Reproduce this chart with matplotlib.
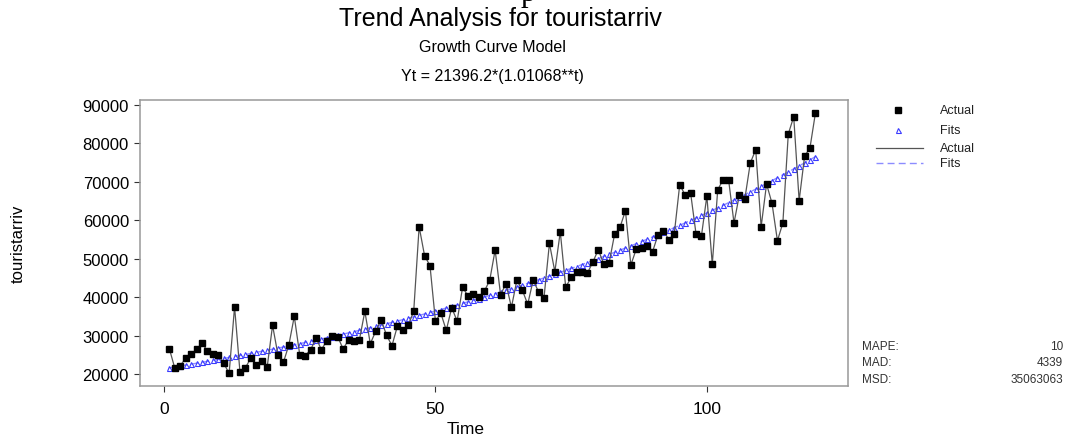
import matplotlib
matplotlib.use("Agg")
import matplotlib.pyplot as plt
from matplotlib.lines import Line2D

plt.rcParams['font.family'] = ['Liberation Sans', 'DejaVu Sans']

# ---- data ----
t = list(range(1, 121))
actual = [
    26500, 21480, 22160, 24160, 25120, 26420, 27980, 26070, 25200, 24870,
    22780, 20180, 37510, 20440, 21640, 24160, 22340, 23300, 21740, 32670,
    24940, 23040, 27550, 35010, 25030, 24770, 26250, 29370, 26330, 28670,
    29810, 29710, 26500, 28920, 28500, 28920, 36310, 27890, 31110, 34130,
    30070, 27370, 32490, 31370, 32750, 36310, 58330, 50790, 48180, 33790,
    35790, 31370, 37250, 33790, 42560, 40300, 40900, 40040, 41520, 44380,
    52260, 40640, 43500, 37350, 44380, 41860, 38140, 44380, 41420, 39860,
    54010, 46620, 57030, 42560, 45160, 46460, 46620, 46280, 49140, 52340,
    48620, 48960, 56350, 58170, 62500, 48360, 52530, 52700, 53230, 51820,
    56250, 57290, 54950, 56510, 69260, 66580, 67180, 56510, 55910, 66320,
    48540, 67960, 70560, 70560, 59290, 66660, 65620, 74910, 78370, 58330,
    69440, 64420, 54690, 59290, 82450, 86950, 65100, 76650, 78890, 87910,
]
fits = [
    21625, 21856, 22089, 22325, 22563, 22804, 23048, 23294, 23543, 23794,
    24049, 24305, 24565, 24827, 25092, 25360, 25631, 25905, 26182, 26461,
    26744, 27030, 27318, 27610, 27905, 28203, 28504, 28809, 29116, 29427,
    29741, 30059, 30380, 30705, 31032, 31364, 31699, 32037, 32380, 32725,
    33075, 33428, 33785, 34146, 34511, 34879, 35252, 35628, 36009, 36393,
    36782, 37175, 37572, 37973, 38379, 38789, 39203, 39622, 40045, 40472,
    40905, 41341, 41783, 42229, 42680, 43136, 43597, 44062, 44533, 45008,
    45489, 45975, 46466, 46962, 47464, 47971, 48483, 49001, 49524, 50053,
    50588, 51128, 51674, 52226, 52784, 53347, 53917, 54493, 55075, 55663,
    56258, 56858, 57466, 58079, 58700, 59327, 59960, 60601, 61248, 61902,
    62563, 63231, 63907, 64589, 65279, 65976, 66681, 67393, 68113, 68840,
    69575, 70318, 71069, 71828, 72595, 73371, 74154, 74946, 75747, 76556,
]
x_ticks = [0, 50, 100]
y_ticks = [20000, 30000, 40000, 50000, 60000, 70000, 80000, 90000]
stat_names = ["MAPE:", "MAD:", "MSD:"]
stat_values = ["10", "4339", "35063063"]

# ---- figure ----
W, H = 1066, 439
fig = plt.figure(figsize=(W / 100, H / 100), dpi=100)
fig.patch.set_facecolor('white')
L, R, T, B = 140, 848, 101, 387
ax = fig.add_axes([L / W, 1 - B / H, (R - L) / W, (B - T) / H])

fit_col = '#3a3aff'
fit_line = '#8c8cff'
act_line = '#555555'

ax.plot(t, fits, color=fit_line, lw=1.0, ls=(0, (5, 3)), zorder=2)
ax.plot(t, fits, ls='none', marker='^', ms=3.6, mfc='none', mec=fit_col,
        mew=0.8, zorder=3)
ax.plot(t, actual, color=act_line, lw=0.9, zorder=4)
ax.plot(t, actual, ls='none', marker='s', ms=4.0, color='black', zorder=5)

ax.set_xlim(-4.42, 126.0)
ax.set_ylim(16880, 91300)
ax.set_xticks(x_ticks)
ax.set_yticks(y_ticks)
ax.tick_params(axis='both', length=4, width=0.8, color='#333333',
               direction='out')
ax.tick_params(axis='x', pad=7, labelsize=12.5)
ax.tick_params(axis='y', pad=4, labelsize=12)
for s in ax.spines.values():
    s.set_color('#999999')
    s.set_linewidth(1.1)

ax.set_xlabel('Time', fontsize=12.5)
ax.xaxis.label.set_verticalalignment('center')
ax.xaxis.set_label_coords((466 - L) / (R - L), 1 - (430 - T) / (B - T))
ax.set_ylabel('touristarriv', fontsize=12)
ax.yaxis.set_label_coords(-(L - 26) / (R - L), 0.5)

# ---- titles ----
fig.text(500 / W, 1 - 19 / H, 'Trend Analysis for touristarriv', ha='center',
         va='center', fontsize=18)
fig.text(492 / W, 1 - 47 / H, 'Growth Curve Model', ha='center', va='center',
         fontsize=11.5)
fig.text(492 / W, 1 - 76 / H, 'Yt = 21396.2*(1.01068**t)', ha='center',
         va='center', fontsize=11.5)
# stray cropped glyph at the top edge of the reference
fig.text(528 / W, 1 - 1 / H, 'p', ha='center', va='baseline', fontsize=22,
         family='Liberation Serif')

# ---- legend (drawn manually in figure coords) ----
def fx(px):
    return px / W

def fy(py):
    return 1 - py / H

leg_items = [
    ('marker', dict(marker='s', ms=4.0, color='black', ls='none'), 'Actual', 111),
    ('marker', dict(marker='^', ms=3.6, mfc='none', mec=fit_col, mew=0.8,
                    ls='none'), 'Fits', 131),
    ('line', dict(color=act_line, lw=0.9), 'Actual', 149),
    ('line', dict(color=fit_line, lw=1.0, ls=(0, (5, 3))), 'Fits', 164),
]
for kind, kw, label, py in leg_items:
    if kind == 'marker':
        fig.add_artist(Line2D([fx(898)], [fy(py)], transform=fig.transFigure, **kw))
    else:
        fig.add_artist(Line2D([fx(876), fx(923)], [fy(py), fy(py)],
                              transform=fig.transFigure, **kw))
    fig.text(fx(940), fy(py), label, ha='left', va='center', fontsize=9,
             color='#222222')

# ---- stats ----
for i, (n, v) in enumerate(zip(stat_names, stat_values)):
    py = 347 + i * 16.5
    fig.text(fx(862), fy(py), n, ha='left', va='center', fontsize=8.5,
             color='#333333')
    fig.text(fx(1063), fy(py), v, ha='right', va='center', fontsize=8.5,
             color='#333333')

fig.savefig('out.png', dpi=100)
